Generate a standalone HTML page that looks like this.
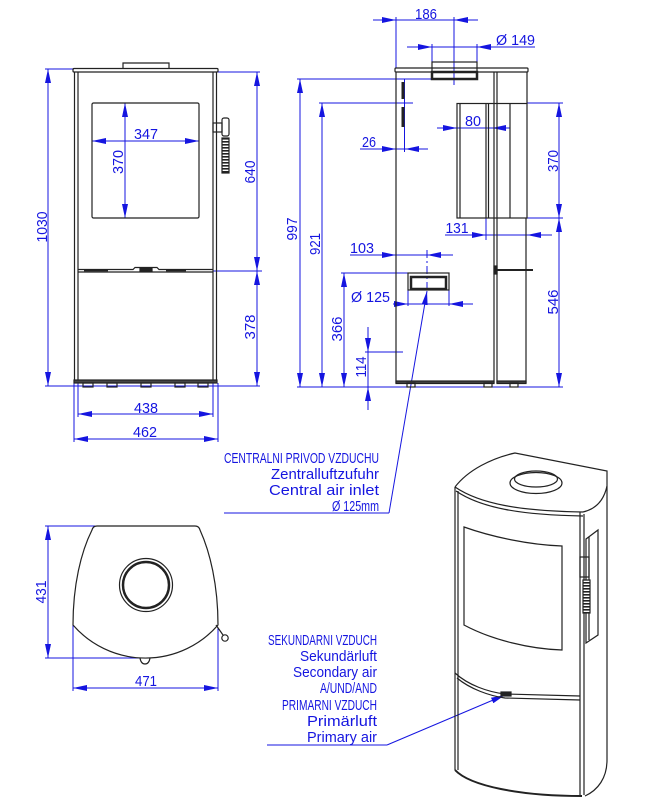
<!DOCTYPE html>
<html><head><meta charset="utf-8"><style>
html,body{margin:0;padding:0;background:#fff;}
svg{display:block}
text{font-family:"Liberation Sans",sans-serif;fill:#1515e0;font-size:15px}
</style></head><body>
<svg width="659" height="810" viewBox="0 0 659 810" xmlns="http://www.w3.org/2000/svg">
<defs>
<marker id="a" markerUnits="userSpaceOnUse" markerWidth="14" markerHeight="8" refX="14" refY="4" orient="auto-start-reverse" viewBox="0 0 14 8"><path d="M0,1 L14,4 L0,7 Z" fill="#1515e0"/></marker>
<pattern id="h" width="4" height="3" patternUnits="userSpaceOnUse"><rect width="4" height="3" fill="#fff"/><rect width="4" height="1.6" fill="#222"/></pattern>
</defs>

<!-- BLUE DIMENSION LINES -->
<g stroke="#1515e0" stroke-width="1" fill="none">
<!-- front -->
<line x1="45" y1="69" x2="74" y2="69"/>
<line x1="45" y1="386" x2="260" y2="386"/>
<line x1="48" y1="69" x2="48" y2="386" marker-start="url(#a)" marker-end="url(#a)"/>
<line x1="218" y1="72" x2="260" y2="72"/>
<line x1="213" y1="271" x2="262" y2="271"/>
<line x1="257" y1="72" x2="257" y2="271" marker-start="url(#a)" marker-end="url(#a)"/>
<line x1="257" y1="271" x2="257" y2="386" marker-start="url(#a)" marker-end="url(#a)"/>
<line x1="92" y1="141" x2="199" y2="141" marker-start="url(#a)" marker-end="url(#a)"/>
<line x1="125" y1="103" x2="125" y2="218" marker-start="url(#a)" marker-end="url(#a)"/>
<line x1="78" y1="383" x2="78" y2="417"/>
<line x1="213" y1="383" x2="213" y2="417"/>
<line x1="78" y1="414" x2="213" y2="414" marker-start="url(#a)" marker-end="url(#a)"/>
<line x1="74" y1="383" x2="74" y2="442"/>
<line x1="218" y1="383" x2="218" y2="442"/>
<line x1="74" y1="439" x2="218" y2="439" marker-start="url(#a)" marker-end="url(#a)"/>

<!-- side -->
<line x1="373" y1="20" x2="478" y2="20"/>
<line x1="380" y1="20" x2="396" y2="20" marker-end="url(#a)"/>
<line x1="470" y1="20" x2="454" y2="20" marker-end="url(#a)"/>
<line x1="396" y1="17" x2="396" y2="68"/>
<line x1="454" y1="17" x2="454" y2="85"/>

<line x1="407" y1="47" x2="535" y2="47"/>
<line x1="416" y1="47" x2="432" y2="47" marker-end="url(#a)"/>
<line x1="493" y1="47" x2="477" y2="47" marker-end="url(#a)"/>
<line x1="432" y1="44" x2="432" y2="62"/>
<line x1="477" y1="44" x2="477" y2="62"/>

<line x1="300" y1="79" x2="300" y2="387" marker-start="url(#a)" marker-end="url(#a)"/>
<line x1="297" y1="79" x2="432" y2="79"/>
<line x1="322" y1="103" x2="322" y2="387" marker-start="url(#a)" marker-end="url(#a)"/>
<line x1="319" y1="103" x2="413" y2="103"/>
<line x1="344" y1="273" x2="344" y2="387" marker-start="url(#a)" marker-end="url(#a)"/>
<line x1="341" y1="273" x2="408" y2="273"/>
<line x1="368" y1="327" x2="368" y2="410"/>
<line x1="368" y1="336" x2="368" y2="352" marker-end="url(#a)"/>
<line x1="368" y1="403" x2="368" y2="387" marker-end="url(#a)"/>
<line x1="365" y1="352" x2="403" y2="352"/>
<line x1="297" y1="387" x2="563" y2="387"/>

<line x1="360" y1="149" x2="428" y2="149"/>
<line x1="380" y1="149" x2="396" y2="149" marker-end="url(#a)"/>
<line x1="421" y1="149" x2="405" y2="149" marker-end="url(#a)"/>
<line x1="404.5" y1="79" x2="404.5" y2="152"/>

<line x1="437" y1="128" x2="510" y2="128"/>
<line x1="441" y1="128" x2="457" y2="128" marker-end="url(#a)"/>
<line x1="506" y1="128" x2="492" y2="128" marker-end="url(#a)"/>

<line x1="559" y1="103" x2="559" y2="218" marker-start="url(#a)" marker-end="url(#a)"/>
<line x1="527" y1="103" x2="563" y2="103"/>
<line x1="497" y1="218" x2="563" y2="218"/>
<line x1="559" y1="218" x2="559" y2="387" marker-start="url(#a)" marker-end="url(#a)"/>

<line x1="445" y1="235" x2="552" y2="235"/>
<line x1="470" y1="235" x2="486" y2="235" marker-end="url(#a)"/>
<line x1="543" y1="235" x2="527" y2="235" marker-end="url(#a)"/>
<line x1="486" y1="218" x2="486" y2="240"/>

<line x1="350" y1="255" x2="453" y2="255"/>
<line x1="380" y1="255" x2="396" y2="255" marker-end="url(#a)"/>
<line x1="443" y1="255" x2="427" y2="255" marker-end="url(#a)"/>
<line x1="427" y1="250" x2="427" y2="290" stroke-dasharray="8 3 2 3"/>

<line x1="393" y1="304" x2="473" y2="304"/>
<line x1="393" y1="304" x2="408" y2="304" marker-end="url(#a)"/>
<line x1="465" y1="304" x2="449" y2="304" marker-end="url(#a)"/>
<line x1="408" y1="289" x2="408" y2="306"/>
<line x1="449" y1="289" x2="449" y2="306"/>

<line x1="389" y1="513" x2="427" y2="291" marker-end="url(#a)"/>
<line x1="224" y1="513" x2="389" y2="513"/>

<!-- top view -->
<line x1="48" y1="526" x2="48" y2="658" marker-start="url(#a)" marker-end="url(#a)"/>
<line x1="45" y1="526" x2="95" y2="526"/>
<line x1="45" y1="658" x2="140" y2="658"/>
<line x1="73" y1="688" x2="218" y2="688" marker-start="url(#a)" marker-end="url(#a)"/>
<line x1="73" y1="625" x2="73" y2="691"/>
<line x1="218" y1="628" x2="218" y2="691"/>

<line x1="267" y1="745" x2="387" y2="745"/>
<line x1="387" y1="745" x2="505" y2="695" marker-end="url(#a)"/>
</g>

<!-- BLACK DRAWING -->
<g stroke="#222" stroke-width="1.2" fill="none">
<!-- front view -->
<rect x="73" y="68.5" width="145" height="3.5" rx="1"/>
<path d="M123,68.5 V63 H169 V68.5"/>
<line x1="74.5" y1="72" x2="74.5" y2="381"/>
<line x1="78" y1="72" x2="78" y2="381"/>
<line x1="213" y1="72" x2="213" y2="381"/>
<line x1="216.5" y1="72" x2="216.5" y2="381"/>
<rect x="92" y="103" width="107" height="115" rx="1.5"/>
<path d="M78,269.5 H133 L135,267.5 H157 L159,269.5 H213"/>
<line x1="78" y1="272" x2="213" y2="272"/>
<rect x="140" y="268" width="12" height="3" fill="#222"/>
<line x1="84" y1="270.6" x2="108" y2="270.6" stroke-width="1.6"/>
<line x1="166" y1="270.6" x2="186" y2="270.6" stroke-width="1.6"/>
<rect x="74" y="380" width="143" height="3" fill="#444"/>
<rect x="83" y="383" width="10" height="4"/>
<rect x="107" y="383" width="10" height="4"/>
<rect x="141" y="383" width="10" height="4"/>
<rect x="175" y="383" width="10" height="4"/>
<rect x="198" y="383" width="10" height="4"/>
<rect x="213" y="123" width="9" height="9"/>
<rect x="222" y="118" width="7" height="18" rx="2"/>
<rect x="222" y="138" width="7" height="35" fill="url(#h)"/>

<!-- side view -->
<rect x="395" y="68" width="133" height="4" rx="1"/>
<rect x="432" y="62" width="45" height="10"/>
<rect x="432" y="72" width="45" height="7" stroke-width="2.5"/>
<line x1="396" y1="72" x2="396" y2="383"/>
<line x1="494" y1="72" x2="494" y2="383"/>
<line x1="497" y1="72" x2="497" y2="383"/>
<line x1="527" y1="72" x2="527" y2="103"/>
<line x1="403" y1="82" x2="403" y2="99" stroke-width="3"/>
<line x1="403" y1="107" x2="403" y2="127" stroke-width="3"/>
<rect x="457" y="103.5" width="70" height="114.5"/>
<line x1="460" y1="103.5" x2="460" y2="218"/>
<line x1="486" y1="103.5" x2="486" y2="218"/>
<line x1="488.5" y1="103.5" x2="488.5" y2="218"/>
<line x1="510" y1="103.5" x2="510" y2="218"/>
<line x1="526" y1="218" x2="526" y2="383"/>
<line x1="494" y1="270" x2="533" y2="270" stroke-width="2"/>
<rect x="494" y="266" width="3" height="8" fill="#222"/>
<rect x="396" y="381" width="98" height="2.5" fill="#444"/>
<rect x="497" y="381" width="29" height="2.5" fill="#444"/>
<rect x="407" y="383" width="8" height="4"/>
<rect x="484" y="383" width="8" height="4"/>
<rect x="510" y="383" width="8" height="4"/>
<rect x="408" y="273" width="41" height="17"/>
<rect x="411" y="277" width="35" height="12" stroke-width="2.5"/>

<!-- top view -->
<path d="M97,526 H195 Q199,526 200,530 C210,552 218,585 218,625 A96,96 0 0 1 73,625 C73,585 81,552 92,530 Q93,526 97,526 Z"/>
<circle cx="146" cy="585" r="26.5"/>
<circle cx="146" cy="585" r="23" stroke-width="2.5"/>
<path d="M140,658 Q141,664 145,664 Q149,664 150,658"/>
<line x1="216" y1="625" x2="223" y2="635"/>
<circle cx="225" cy="638" r="3.2"/>

<!-- 3D view -->
<path d="M455,487 C468,470 492,458 515,453 L607,471 L607,486 C604,500 596,509 583,512"/>
<path d="M455,487 C480,504 520,511 583,512"/>
<path d="M456,491 C481,508 521,515 583,516"/>
<ellipse cx="536" cy="483" rx="26" ry="10.5"/>
<ellipse cx="536" cy="479" rx="21.5" ry="8"/>
<line x1="455" y1="487" x2="455" y2="770"/>
<line x1="458" y1="491" x2="458" y2="770"/>
<line x1="580" y1="512" x2="580" y2="795"/>
<line x1="584" y1="514" x2="584" y2="795"/>
<path d="M607,486 V760 C607,778 598,790 585,796"/>
<path d="M455,770 C470,786 520,796 582,796" stroke-width="2"/>
<path d="M464,527 C492,537 530,545 562,546 V650 C530,649 492,640 464,625 Z"/>
<path d="M455,673 C468,685 488,692 505,694 L580,696"/>
<path d="M457,678 C470,689 490,696 505,698 L580,700"/>
<rect x="501" y="692" width="10" height="4" fill="#222"/>
<path d="M586,539 L598,530 V635 L586,643 Z"/>
<line x1="589" y1="537" x2="589" y2="640"/>
<rect x="580" y="557" width="9" height="20"/>
<rect x="583" y="580" width="7" height="33" fill="url(#h)"/>
</g>

<!-- TEXTS -->
<g lengthAdjust="spacingAndGlyphs">
<text x="146" y="139" text-anchor="middle" textLength="24" lengthAdjust="spacingAndGlyphs">347</text>
<text transform="translate(123,162) rotate(-90)" text-anchor="middle" textLength="24" lengthAdjust="spacingAndGlyphs">370</text>
<text transform="translate(47,227) rotate(-90)" text-anchor="middle" textLength="31" lengthAdjust="spacingAndGlyphs">1030</text>
<text transform="translate(255,172) rotate(-90)" text-anchor="middle" textLength="23" lengthAdjust="spacingAndGlyphs">640</text>
<text transform="translate(255,327) rotate(-90)" text-anchor="middle" textLength="25" lengthAdjust="spacingAndGlyphs">378</text>
<text x="146" y="413" text-anchor="middle" textLength="24" lengthAdjust="spacingAndGlyphs">438</text>
<text x="145" y="437" text-anchor="middle" textLength="24" lengthAdjust="spacingAndGlyphs">462</text>

<text x="426" y="19" text-anchor="middle" textLength="22" lengthAdjust="spacingAndGlyphs">186</text>
<text x="496" y="45" textLength="39" lengthAdjust="spacingAndGlyphs">Ø 149</text>
<text transform="translate(297,229) rotate(-90)" text-anchor="middle" textLength="23" lengthAdjust="spacingAndGlyphs">997</text>
<text transform="translate(320,244) rotate(-90)" text-anchor="middle" textLength="22" lengthAdjust="spacingAndGlyphs">921</text>
<text transform="translate(342,329) rotate(-90)" text-anchor="middle" textLength="25" lengthAdjust="spacingAndGlyphs">366</text>
<text transform="translate(366,367) rotate(-90)" text-anchor="middle" textLength="21" lengthAdjust="spacingAndGlyphs">114</text>
<text x="369" y="147" text-anchor="middle" textLength="14" lengthAdjust="spacingAndGlyphs">26</text>
<text x="473" y="126" text-anchor="middle" textLength="16" lengthAdjust="spacingAndGlyphs">80</text>
<text transform="translate(558,161) rotate(-90)" text-anchor="middle" textLength="22" lengthAdjust="spacingAndGlyphs">370</text>
<text transform="translate(558,302) rotate(-90)" text-anchor="middle" textLength="25" lengthAdjust="spacingAndGlyphs">546</text>
<text x="457" y="233" text-anchor="middle" textLength="23" lengthAdjust="spacingAndGlyphs">131</text>
<text x="362" y="253" text-anchor="middle" textLength="24" lengthAdjust="spacingAndGlyphs">103</text>
<text x="351" y="302" textLength="39" lengthAdjust="spacingAndGlyphs">Ø 125</text>

<text transform="translate(46,592) rotate(-90)" text-anchor="middle" textLength="23" lengthAdjust="spacingAndGlyphs">431</text>
<text x="146" y="686" text-anchor="middle" textLength="22" lengthAdjust="spacingAndGlyphs">471</text>

<text x="379" y="463" text-anchor="end" textLength="155" lengthAdjust="spacingAndGlyphs">CENTRALNI PRIVOD VZDUCHU</text>
<text x="379" y="479" text-anchor="end" textLength="108" lengthAdjust="spacingAndGlyphs">Zentralluftzufuhr</text>
<text x="379" y="495" text-anchor="end" textLength="110" lengthAdjust="spacingAndGlyphs">Central air inlet</text>
<text x="379" y="511" text-anchor="end" textLength="47" lengthAdjust="spacingAndGlyphs">Ø 125mm</text>

<text x="377" y="645" text-anchor="end" textLength="109" lengthAdjust="spacingAndGlyphs">SEKUNDARNI VZDUCH</text>
<text x="377" y="661" text-anchor="end" textLength="77" lengthAdjust="spacingAndGlyphs">Sekundärluft</text>
<text x="377" y="677" text-anchor="end" textLength="84" lengthAdjust="spacingAndGlyphs">Secondary air</text>
<text x="377" y="693" text-anchor="end" textLength="57" lengthAdjust="spacingAndGlyphs">A/UND/AND</text>
<text x="377" y="710" text-anchor="end" textLength="95" lengthAdjust="spacingAndGlyphs">PRIMARNI VZDUCH</text>
<text x="377" y="726" text-anchor="end" textLength="70" lengthAdjust="spacingAndGlyphs">Primärluft</text>
<text x="377" y="742" text-anchor="end" textLength="70" lengthAdjust="spacingAndGlyphs">Primary air</text>
</g>
</svg>
</body></html>
